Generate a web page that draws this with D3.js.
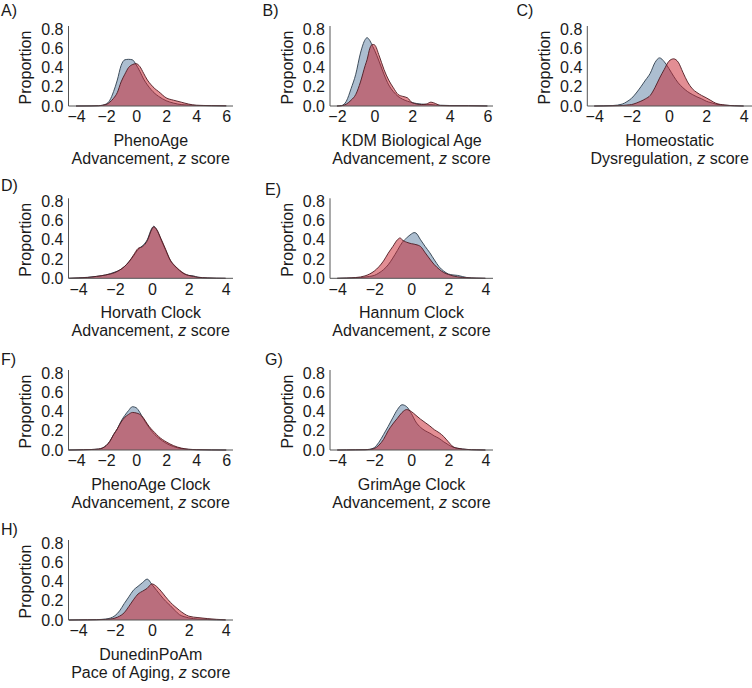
<!DOCTYPE html>
<html>
<head>
<meta charset="utf-8">
<script src="https://cdn.jsdelivr.net/npm/d3@7"></script>
<style>
  html, body { margin: 0; padding: 0; background: #ffffff; }
  svg { display: block; }
  text { font-family: "Liberation Sans", Arial, sans-serif; fill: #1a1a1a; }
</style>
</head>
<body>
<svg id="chart" width="752" height="688"></svg>
<script>
// ---------------- DATA ----------------
const yTicks = [0, 0.2, 0.4, 0.6, 0.8];
const xTicksWide = [-4, -2, 0, 2, 4, 6];
const xTicksKdm = [-2, 0, 2, 4, 6];
const xTicksStd = [-4, -2, 0, 2, 4];

// A) PhenoAge
const phenoAgeX    = [-4, -3, -2.5, -2, -1.75, -1.5, -1.25, -1, -0.75, -0.5, -0.25, 0, 0.25, 0.5, 0.75, 1, 1.25, 1.5, 2, 2.5, 3, 3.5, 4, 5, 6];
const phenoAgeBlue = [0, 0.001, 0.003, 0.02, 0.06, 0.15, 0.27, 0.42, 0.48, 0.485, 0.48, 0.43, 0.36, 0.28, 0.22, 0.17, 0.13, 0.10, 0.055, 0.03, 0.015, 0.01, 0.006, 0.003, 0.001];
const phenoAgeRed  = [0, 0.001, 0.003, 0.015, 0.04, 0.08, 0.14, 0.25, 0.33, 0.40, 0.43, 0.44, 0.41, 0.34, 0.27, 0.22, 0.18, 0.15, 0.085, 0.06, 0.04, 0.02, 0.008, 0.004, 0.002];

// B) KDM Biological Age
const kdmX    = [-2, -1.75, -1.5, -1.25, -1, -0.75, -0.5, -0.4, -0.25, -0.1, 0, 0.25, 0.5, 0.75, 1, 1.25, 1.5, 1.75, 2, 2.5, 2.75, 3, 3.25, 3.5, 4, 5, 6];
const kdmBlue = [0, 0.005, 0.05, 0.18, 0.33, 0.55, 0.69, 0.71, 0.68, 0.62, 0.58, 0.46, 0.33, 0.22, 0.15, 0.10, 0.07, 0.05, 0.035, 0.02, 0.017, 0.015, 0.01, 0.008, 0.005, 0.004, 0.001];
const kdmRed  = [0, 0.003, 0.02, 0.06, 0.12, 0.25, 0.42, 0.48, 0.60, 0.64, 0.635, 0.52, 0.38, 0.27, 0.19, 0.12, 0.10, 0.085, 0.035, 0.015, 0.02, 0.04, 0.025, 0.005, 0.002, 0.002, 0];

// C) Homeostatic Dysregulation
const hdX    = [-4, -3, -2.5, -2.25, -2, -1.75, -1.5, -1.25, -1, -0.75, -0.5, -0.25, 0, 0.25, 0.5, 0.75, 1, 1.25, 1.5, 1.75, 2, 2.25, 2.5, 3, 3.5, 4];
const hdBlue = [0, 0.005, 0.02, 0.045, 0.08, 0.135, 0.20, 0.27, 0.34, 0.45, 0.50, 0.46, 0.39, 0.31, 0.24, 0.19, 0.15, 0.12, 0.095, 0.075, 0.05, 0.035, 0.02, 0.008, 0.003, 0];
const hdRed  = [0, 0.002, 0.005, 0.01, 0.015, 0.03, 0.05, 0.075, 0.11, 0.19, 0.29, 0.38, 0.465, 0.49, 0.455, 0.35, 0.25, 0.18, 0.14, 0.11, 0.085, 0.057, 0.03, 0.01, 0.003, 0];

// D) Horvath Clock
const horvathX    = [-4.5, -4, -3.5, -3, -2.5, -2, -1.75, -1.5, -1.25, -1, -0.75, -0.5, -0.25, 0, 0.1, 0.25, 0.5, 0.75, 1, 1.25, 1.5, 1.75, 2, 2.25, 2.5, 3, 3.5, 4];
const horvathBlue = [0, 0.004, 0.01, 0.02, 0.035, 0.065, 0.085, 0.12, 0.17, 0.23, 0.30, 0.34, 0.40, 0.52, 0.54, 0.51, 0.40, 0.29, 0.185, 0.125, 0.08, 0.045, 0.03, 0.025, 0.012, 0.004, 0.001, 0];
const horvathRed  = [0, 0.004, 0.008, 0.02, 0.035, 0.06, 0.085, 0.12, 0.17, 0.24, 0.31, 0.33, 0.39, 0.51, 0.535, 0.51, 0.41, 0.30, 0.19, 0.13, 0.085, 0.05, 0.03, 0.02, 0.01, 0.004, 0.001, 0];

// E) Hannum Clock
const hannumX    = [-4, -3.5, -3, -2.5, -2.25, -2, -1.75, -1.5, -1.25, -1, -0.75, -0.6, -0.5, -0.25, 0, 0.15, 0.25, 0.5, 0.75, 1, 1.25, 1.5, 1.75, 2, 2.25, 2.5, 3, 3.5, 4];
const hannumBlue = [0, 0.002, 0.005, 0.012, 0.02, 0.03, 0.055, 0.09, 0.14, 0.21, 0.29, 0.34, 0.37, 0.42, 0.46, 0.475, 0.47, 0.40, 0.33, 0.265, 0.19, 0.12, 0.075, 0.045, 0.035, 0.03, 0.008, 0.002, 0];
const hannumRed  = [0, 0.003, 0.008, 0.025, 0.045, 0.075, 0.12, 0.18, 0.26, 0.33, 0.40, 0.42, 0.40, 0.375, 0.36, 0.355, 0.35, 0.33, 0.265, 0.2, 0.14, 0.095, 0.06, 0.04, 0.025, 0.015, 0.005, 0.002, 0];

// F) PhenoAge Clock
const phenoClockX    = [-4.5, -4, -3.5, -3, -2.5, -2.25, -2, -1.75, -1.5, -1.25, -1, -0.75, -0.5, -0.25, 0, 0.25, 0.5, 0.75, 1, 1.25, 1.5, 2, 2.5, 3, 3.5, 4, 5, 6];
const phenoClockBlue = [0, 0.001, 0.003, 0.005, 0.01, 0.02, 0.045, 0.09, 0.16, 0.22, 0.30, 0.36, 0.41, 0.45, 0.44, 0.39, 0.32, 0.26, 0.205, 0.16, 0.125, 0.07, 0.035, 0.015, 0.006, 0.003, 0.001, 0];
const phenoClockRed  = [0, 0.001, 0.003, 0.005, 0.01, 0.02, 0.045, 0.09, 0.16, 0.22, 0.29, 0.34, 0.37, 0.39, 0.385, 0.37, 0.33, 0.27, 0.22, 0.18, 0.14, 0.085, 0.045, 0.02, 0.008, 0.004, 0.001, 0];

// G) GrimAge Clock
const grimAgeX    = [-4, -3.5, -3, -2.5, -2.25, -2, -1.75, -1.5, -1.25, -1, -0.75, -0.5, -0.25, 0, 0.25, 0.5, 0.75, 1, 1.25, 1.5, 1.75, 2, 2.25, 2.5, 3, 3.5, 4];
const grimAgeBlue = [0, 0.001, 0.002, 0.003, 0.008, 0.025, 0.08, 0.16, 0.245, 0.335, 0.42, 0.47, 0.45, 0.38, 0.29, 0.235, 0.2, 0.175, 0.145, 0.12, 0.085, 0.055, 0.03, 0.018, 0.006, 0.002, 0];
const grimAgeRed  = [0, 0.001, 0.002, 0.003, 0.005, 0.015, 0.05, 0.11, 0.20, 0.27, 0.33, 0.39, 0.42, 0.40, 0.36, 0.32, 0.285, 0.25, 0.21, 0.18, 0.14, 0.085, 0.035, 0.018, 0.006, 0.002, 0];

// H) DunedinPoAm
const dunedinX    = [-4.5, -4, -3.5, -3, -2.5, -2.25, -2, -1.75, -1.5, -1.25, -1, -0.75, -0.5, -0.25, 0, 0.25, 0.5, 0.75, 1, 1.25, 1.5, 1.75, 2, 2.5, 3, 3.5, 4];
const dunedinBlue = [0, 0.001, 0.002, 0.004, 0.01, 0.02, 0.045, 0.095, 0.17, 0.24, 0.31, 0.35, 0.39, 0.425, 0.37, 0.31, 0.25, 0.195, 0.15, 0.10, 0.055, 0.035, 0.022, 0.01, 0.005, 0.002, 0];
const dunedinRed  = [0, 0.001, 0.002, 0.003, 0.006, 0.01, 0.02, 0.04, 0.075, 0.14, 0.21, 0.27, 0.30, 0.33, 0.375, 0.35, 0.30, 0.24, 0.185, 0.14, 0.10, 0.065, 0.04, 0.025, 0.015, 0.007, 0.002];

const panelLetters = ["A)", "B)", "C)", "D)", "E)", "F)", "G)", "H)"];
const labelLine1 = ["PhenoAge", "KDM Biological Age", "Homeostatic", "Horvath Clock", "Hannum Clock", "PhenoAge Clock", "GrimAge Clock", "DunedinPoAm"];
const labelLine2Prefix = ["Advancement, ", "Advancement, ", "Dysregulation, ", "Advancement, ", "Advancement, ", "Advancement, ", "Advancement, ", "Pace of Aging, "];

// ---------------- LAYOUT ----------------
const cols = [
  {left: 68.5, right: 233},
  {left: 330, right: 493},
  {left: 587.3, right: 752}
];
const rowBase = [106, 278.3, 450, 620];
const letterBase = [16, 16, 16, 190.7, 195, 365, 365, 535];
const letterX = [1, 262.5, 516.5, 1, 265, 1, 265, 1];

const panels = [
  {x: phenoAgeX, blue: phenoAgeBlue, red: phenoAgeRed, ticks: xTicksWide, dom: [-4.5, 6.45], col: 0, row: 0},
  {x: kdmX, blue: kdmBlue, red: kdmRed, ticks: xTicksKdm, dom: [-2.37, 6.3], col: 1, row: 0},
  {x: hdX, blue: hdBlue, red: hdRed, ticks: xTicksStd, dom: [-4.37, 4.45], col: 2, row: 0},
  {x: horvathX, blue: horvathBlue, red: horvathRed, ticks: xTicksStd, dom: [-4.52, 4.4], col: 0, row: 1},
  {x: hannumX, blue: hannumBlue, red: hannumRed, ticks: xTicksStd, dom: [-4.39, 4.41], col: 1, row: 1},
  {x: phenoClockX, blue: phenoClockBlue, red: phenoClockRed, ticks: xTicksWide, dom: [-4.5, 6.45], col: 0, row: 2},
  {x: grimAgeX, blue: grimAgeBlue, red: grimAgeRed, ticks: xTicksStd, dom: [-4.39, 4.41], col: 1, row: 2},
  {x: dunedinX, blue: dunedinBlue, red: dunedinRed, ticks: xTicksStd, dom: [-4.52, 4.4], col: 0, row: 3}
];

const blueFill = "rgb(89,125,161)";
const redFill = "rgb(200,30,42)";
const blueEdge = "#2e3d4c";
const redEdge = "#4d1a20";

const svg = d3.select("#chart");

panels.forEach((p, i) => {
  const c = cols[p.col];
  const base = rowBase[p.row];
  const x = d3.scaleLinear().domain(p.dom).range([c.left, c.right]);
  const y = d3.scaleLinear().domain([0, 0.8]).range([base, base - 77]);

  const g = svg.append("g");

  const area = d3.area()
    .x((d) => x(d[0]))
    .y0(y(0))
    .y1((d) => y(d[1]))
    .curve(d3.curveMonotoneX);
  const line = d3.line()
    .x((d) => x(d[0]))
    .y((d) => y(d[1]))
    .curve(d3.curveMonotoneX);

  const blueData = p.x.map((v, k) => [v, p.blue[k]]);
  const redData = p.x.map((v, k) => [v, p.red[k]]);

  g.append("path").datum(blueData).attr("d", area)
    .attr("fill", blueFill).attr("fill-opacity", 0.5);
  g.append("path").datum(blueData).attr("d", line)
    .attr("fill", "none").attr("stroke", blueEdge).attr("stroke-width", 0.9);
  g.append("path").datum(redData).attr("d", area)
    .attr("fill", redFill).attr("fill-opacity", 0.5);
  g.append("path").datum(redData).attr("d", line)
    .attr("fill", "none").attr("stroke", redEdge).attr("stroke-width", 0.9);

  // axes
  const xAxis = d3.axisBottom(x).tickValues(p.ticks).tickSize(0).tickPadding(5)
    .tickFormat(d3.format("d"));
  const yAxis = d3.axisLeft(y).tickValues(yTicks).tickSize(0).tickPadding(5)
    .tickFormat(d3.format(".1f"));

  const gx = g.append("g").attr("transform", `translate(0,${y(0)})`).call(xAxis);
  gx.select(".domain").attr("d", `M${c.left},0H${c.right}`).attr("stroke", "#555").attr("stroke-width", 1);
  gx.selectAll("text").attr("font-size", 16).attr("fill", "#1a1a1a")
    .attr("font-family", '"Liberation Sans", Arial, sans-serif');

  const gy = g.append("g").attr("transform", `translate(${c.left},0)`).call(yAxis);
  gy.select(".domain").attr("d", `M0,${y(0)}V${base - 80}`).attr("stroke", "#555").attr("stroke-width", 1);
  gy.selectAll("text").attr("font-size", 16).attr("fill", "#1a1a1a")
    .attr("font-family", '"Liberation Sans", Arial, sans-serif');

  // y label
  g.append("text")
    .attr("transform", `translate(${c.left - 43},${(y(0) + y(0.8)) / 2}) rotate(-90)`)
    .attr("text-anchor", "middle")
    .attr("dominant-baseline", "central")
    .attr("font-size", 16)
    .text("Proportion");

  // x label
  const cx = (c.left + c.right) / 2;
  g.append("text").attr("x", cx).attr("y", base + 40)
    .attr("text-anchor", "middle").attr("font-size", 16)
    .text(labelLine1[i]);
  const t2 = g.append("text").attr("x", cx).attr("y", base + 57.5)
    .attr("text-anchor", "middle").attr("font-size", 16);
  t2.append("tspan").text(labelLine2Prefix[i]);
  t2.append("tspan").attr("font-style", "italic").text("z");
  t2.append("tspan").text(" score");

  // panel letter
  g.append("text").attr("x", letterX[i]).attr("y", letterBase[i])
    .attr("font-size", 16).text(panelLetters[i]);
});
</script>
</body>
</html>
